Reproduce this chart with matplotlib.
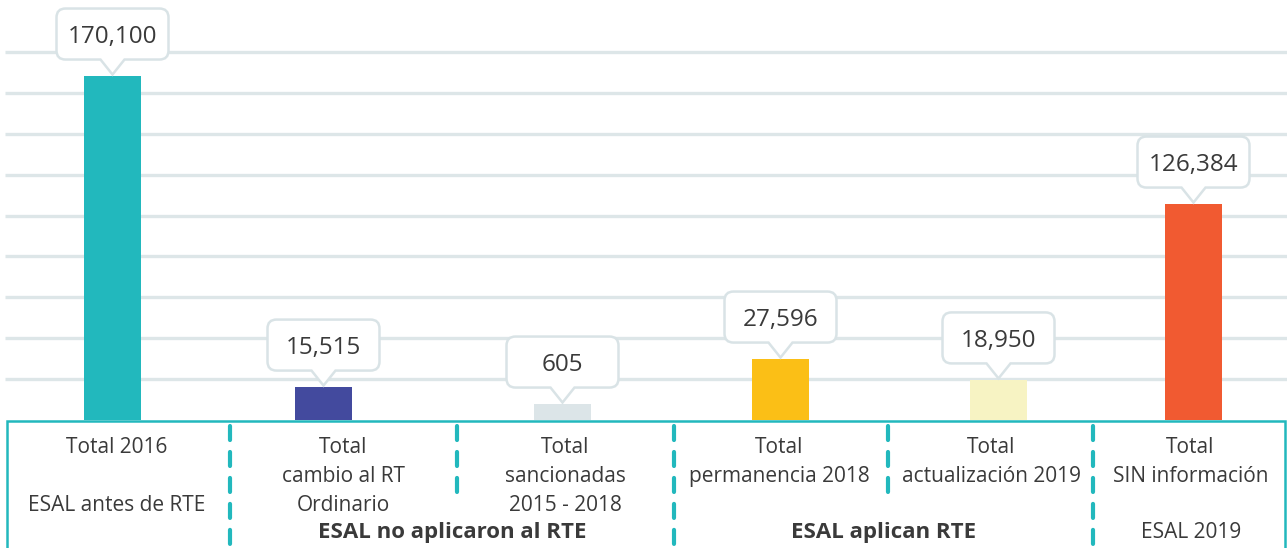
import matplotlib
matplotlib.use("Agg")
import matplotlib.pyplot as plt
from matplotlib.path import Path
from matplotlib.patches import PathPatch
from matplotlib.transforms import Affine2D, ScaledTranslation, offset_copy

plt.rcParams['font.family'] = ['Open Sans', 'DejaVu Sans']
plt.rcParams['lines.scale_dashes'] = False

# ---------------- data ----------------
categories = ["Total 2016", "Total cambio al RT Ordinario", "Total sancionadas 2015 - 2018",
              "Total permanencia 2018", "Total actualización 2019", "Total SIN información"]
category_lines = [["Total 2016"],
                  ["Total", "cambio al RT", "Ordinario"],
                  ["Total", "sancionadas", "2015 - 2018"],
                  ["Total", "permanencia 2018"],
                  ["Total", "actualización 2019"],
                  ["Total", "SIN información"]]
values = [170100, 15515, 605, 27596, 18950, 126384]
value_labels = ["170,100", "15,515", "605", "27,596", "18,950", "126,384"]
# bar heights as drawn in the picture (not proportional to the labels)
bar_heights = [168200, 16100, 7800, 29800, 19600, 105600]
bar_colors = ["#22b8bd", "#434a9e", "#dce5e8", "#fbbf16", "#f7f3c3", "#f15a31"]
group_labels = ["ESAL antes de RTE", "ESAL no aplicaron al RTE", "ESAL aplican RTE", "ESAL 2019"]
grid_values = [20000, 40000, 60000, 80000, 100000, 120000, 140000, 160000, 180000]

# ---------------- layout (pixels) ----------------
W, H = 1287, 548
baseline_px = 420
px_per_unit = 40.9 / 20000
bar_x = [112.5, 323.5, 562.5, 780.5, 998.5, 1193.5]
bar_w = 57
label_x = [117, 343.5, 565.5, 779.5, 991.5, 1190.5]
line_y0, line_dy = 453, 29
group_pos = [(117, 511, 'normal', 15), (452, 538, 'bold', 16), (884, 538, 'bold', 16),
             (1191, 538, 'normal', 15)]
full_seps = [230, 674, 1093]
short_seps = [457, 888]

teal = "#22b8bd"
grid_c = "#dde6e8"
edge_c = "#d9e3e6"
txt_c = "#3a3a3a"

fig = plt.figure(figsize=(W / 100, H / 100), dpi=100)
ax = fig.add_axes([0, (H - baseline_px) / H, 1, baseline_px / H])
ax.set_xlim(0, W)
ax.set_ylim(0, baseline_px / px_per_unit)
ax.set_autoscale_on(False)
ax.axis('off')
ax.patch.set_visible(False)

ax.hlines(grid_values, 5, W, colors=grid_c, linewidth=2.4, zorder=0)
ax.bar(bar_x, bar_heights, width=bar_w, color=bar_colors, zorder=2)

# callouts
w, r, pb = 56, 9, 12
yb, yt = 16.5, 67.5
verts = [(pb, yb), (w - r, yb), (w, yb), (w, yb + r), (w, yt - r), (w, yt), (w - r, yt),
         (-w + r, yt), (-w, yt), (-w, yt - r), (-w, yb + r), (-w, yb), (-w + r, yb),
         (-pb, yb), (0, 1.5), (pb, yb)]
codes = [Path.MOVETO, Path.LINETO, Path.CURVE3, Path.CURVE3, Path.LINETO, Path.CURVE3, Path.CURVE3,
         Path.LINETO, Path.CURVE3, Path.CURVE3, Path.LINETO, Path.CURVE3, Path.CURVE3,
         Path.LINETO, Path.LINETO, Path.CLOSEPOLY]
callout = Path(verts, codes)
for x, h, lab in zip(bar_x, bar_heights, value_labels):
    trans = Affine2D() + ScaledTranslation(x, h, ax.transData)
    p = PathPatch(callout, facecolor='white', edgecolor=edge_c, linewidth=1.8,
                  transform=trans, zorder=3, clip_on=False)
    ax.add_artist(p)
    ax.text(x, h, lab, transform=offset_copy(ax.transData, fig=fig, x=0, y=33, units='dots'),
            ha='center', va='baseline', fontsize=17.5, color=txt_c, zorder=4)

# bottom panel
pan = fig.add_axes([0, 0, 1, 1])
pan.set_xlim(0, W)
pan.set_ylim(H, 0)
pan.axis('off')
pan.patch.set_visible(False)

pan.plot([7, 7, 1285, 1285], [H + 5, 420.5, 420.5, H + 5], color=teal, linewidth=1.8,
         solid_joinstyle='miter', clip_on=True)
for sx in full_seps:
    pan.plot([sx, sx], [426, H + 10], color=teal, linewidth=3, linestyle=(0, (10.1, 8.6)),
             dash_capstyle='round')
for sx in short_seps:
    pan.plot([sx, sx], [426, 493], color=teal, linewidth=3, linestyle=(0, (10.1, 8.6)),
             dash_capstyle='round')

for lx, lines in zip(label_x, category_lines):
    for i, line in enumerate(lines):
        pan.text(lx, line_y0 + i * line_dy, line, ha='center', va='baseline',
                 fontsize=15, color=txt_c)
for (gx, gy, gw, gs), g in zip(group_pos, group_labels):
    pan.text(gx, gy, g, ha='center', va='baseline', fontsize=gs, fontweight=gw, color=txt_c)

fig.savefig("out.png", dpi=100)
